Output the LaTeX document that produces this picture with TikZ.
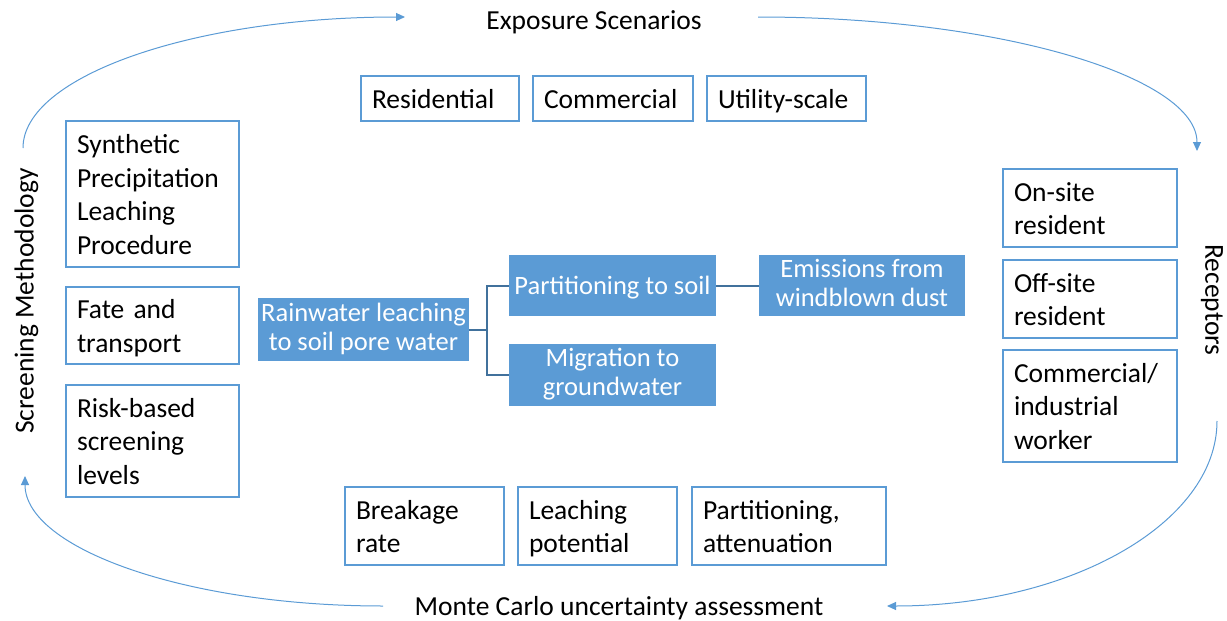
\documentclass[tikz,border=0pt]{standalone}
\usepackage{fontspec}
\setmainfont{Carlito}
\usetikzlibrary{arrows.meta}
\definecolor{bl}{HTML}{5B9BD5}
\definecolor{dk}{HTML}{41719C}
\begin{document}
\begin{tikzpicture}[x=1pt,y=-1pt,
  wbox/.style={draw=bl, line width=1.1pt, fill=white, align=left, inner xsep=11pt, inner ysep=0pt,
    font=\fontsize{27.5}{33.5}\selectfont,
    execute at begin node=\rule{0pt}{26.5pt}, execute at end node=\rule[-7pt]{0pt}{0pt}},
  fbox/.style={fill=bl, draw=none, text=white, align=center, inner sep=0pt,
    font=\fontsize{26.5}{29}\selectfont,
    execute at begin node=\rule{0pt}{24pt}, execute at end node=\rule[-5.5pt]{0pt}{0pt}},
  lbl/.style={inner sep=0pt, font=\fontsize{27.5}{33.5}\selectfont, execute at begin node=\strut},
  conn/.style={draw=dk, line width=2pt},
  cyc/.style={draw=bl, line width=1pt, -{Triangle[length=9pt,width=8pt]}}
]
\useasboundingbox (0,0) rectangle (1227,621);
% top row
\node[wbox, text width=136pt, minimum height=45pt] (res) at (440,98.5) {Residential};
\node[wbox, text width=138pt, minimum height=45pt] (com) at (613,98.5) {Commercial};
\node[wbox, text width=137pt, minimum height=45pt] (util) at (786.5,98.5) {Utility-scale};
% left column
\node[wbox, text width=151pt, minimum height=146pt] (spl) at (152.5,194) {Synthetic\\Precipitation\\Leaching\\Procedure};
\node[wbox, text width=151pt, minimum height=77pt] (fate) at (152.5,325.5) {Fate and\\transport};
\node[wbox, text width=151pt, minimum height=112pt] (risk) at (152.5,441) {Risk-based\\screening\\levels};
% right column
\node[wbox, text width=152pt, minimum height=78pt] (ons) at (1090,208) {On-site\\resident};
\node[wbox, text width=152pt, minimum height=78pt] (offs) at (1090,299) {Off-site\\resident};
\node[wbox, text width=152pt, minimum height=112pt] (worker) at (1090,406) {Commercial/\\industrial\\worker};
% bottom row
\node[wbox, text width=137pt, minimum height=78pt] (brk) at (424.5,526) {Breakage\\rate};
\node[wbox, text width=137pt, minimum height=78pt] (lch) at (597.5,526) {Leaching\\potential};
\node[wbox, text width=172pt, minimum height=78pt] (patt) at (789,526) {Partitioning,\\attenuation};
% center
\node[fbox, minimum width=211pt, minimum height=63pt] (rain) at (363.5,329.5) {Rainwater leaching\\to soil pore water};
\node[fbox, minimum width=207pt, minimum height=61pt] (part) at (612.5,285.5) {Partitioning to soil};
\node[fbox, minimum width=206pt, minimum height=61pt] (emis) at (862,285.5) {Emissions from\\windblown dust};
\node[fbox, minimum width=207pt, minimum height=62pt] (mig) at (612.5,375) {Migration to\\groundwater};
\draw[conn] (rain.east) -- ++(18,0) |- (part.west);
\draw[conn] (rain.east) -- ++(18,0) |- (mig.west);
\draw[conn] (part.east) -- (emis.west);
% cycle labels
\node[lbl] (expo) at (594,23) {Exposure Scenarios};
\node[lbl] (monte) at (619,609) {Monte Carlo uncertainty assessment};
\node[lbl, rotate=90] (screen) at (27,301) {Screening Methodology};
\node[lbl, rotate=-90] (recep) at (1212,300) {Receptors};
% cycle arrows
\coordinate (a1) at (23,148);
\coordinate (a2) at (405,17);
\coordinate (b1) at (758,17);
\coordinate (b2) at (1197,151);
\coordinate (c1) at (1217,421);
\coordinate (c2) at (887,606);
\coordinate (d1) at (383,606);
\coordinate (d2) at (25,476);
\draw[cyc] (a1) .. controls (23,76) and (194,17) .. (a2);
\draw[cyc] (b1) .. controls (1000,17) and (1197,77) .. (b2);
\draw[cyc] (c1) .. controls (1217,523) and (1070,606) .. (c2);
\draw[cyc] (d1) .. controls (185,606) and (25,548) .. (d2);
\end{tikzpicture}
\end{document}
